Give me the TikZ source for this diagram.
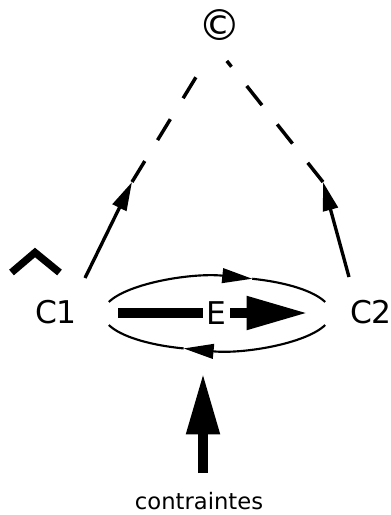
\documentclass[tikz,border=0pt]{standalone}
\usepackage{fontspec}
\setmainfont{DejaVu Sans}
\usetikzlibrary{arrows.meta}
\begin{document}
\begin{tikzpicture}[x=0.75pt,y=-0.75pt,
  thintip/.style={-{Triangle[length=21.5pt,width=11.2pt]}},
  solidline/.style={line width=2.5pt, thintip},
  dashline/.style={line width=2.6pt, dash pattern=on 18.4pt off 18.4pt},
  arcline/.style={line width=1.6pt},
  arctip/.style={-{Triangle[length=22.5pt,width=11pt]}},
  bigarrow/.style={line width=7.5pt, -{Triangle[length=46pt,width=23.5pt]}},
  biglabel/.style={font=\fontsize{23.5}{26}\selectfont, inner sep=0pt},
  smalllabel/.style={font=\fontsize{17}{20}\selectfont, inner sep=0pt},
  hatline/.style={line width=5.5pt, miter limit=10}
]
\useasboundingbox (0,0) rectangle (390,515);

% labels
\node[font=\fontsize{32}{36}\selectfont, inner sep=0pt] (copy) at (220,25) {©};
\node[biglabel, anchor=base] (C1) at (56,323) {C1};
\node[biglabel, anchor=base] (C2) at (371,323) {C2};
\node[smalllabel, anchor=base] (ctr) at (199,509) {contraintes};

% coordinates
\coordinate (apex) at (215,46);
\coordinate (c1out) at (85,278);
\coordinate (ltip) at (132,182);
\coordinate (c2out) at (349,277);
\coordinate (rtip) at (323,182);
\coordinate (ec) at (217,313.5);
\coordinate (barstart) at (118,313);
\coordinate (barend) at (308,313);
\coordinate (upstart) at (203,473);
\coordinate (uptip) at (203,373);

% dashed lines toward the top
\draw[dashline, shorten >=26.7pt] (ltip) -- (apex);
\draw[dashline, shorten >=14.3pt] (rtip) -- (apex);

% solid arrows
\draw[solidline] (c1out) -- (ltip);
\draw[solidline] (c2out) -- (rtip);

% hat
\draw[hatline] (11.5,272.5) -- (35,252.5) -- (59.5,272.5);

% loop (two arcs)
\draw[arcline, arctip] ([shift={(161.6:85.5pt and 27.4pt)}]ec) arc[start angle=161.6, end angle=72, x radius=85.5pt, y radius=27.4pt];
\draw[arcline] ([shift={(72:85.5pt and 27.4pt)}]ec) arc[start angle=72, end angle=18.4, x radius=85.5pt, y radius=27.4pt];
\draw[arcline, arctip] ([shift={(-18.4:85.5pt and 27.4pt)}]ec) arc[start angle=-18.4, end angle=-107, x radius=85.5pt, y radius=27.4pt];
\draw[arcline] ([shift={(-107:85.5pt and 27.4pt)}]ec) arc[start angle=-107, end angle=-161.6, x radius=85.5pt, y radius=27.4pt];

% thick arrows
\draw[bigarrow] (barstart) -- (barend);
\node[biglabel, fill=white, inner xsep=2.6pt, inner ysep=1pt] (E) at (216.5,313) {E};
\draw[bigarrow] (upstart) -- (uptip);
\end{tikzpicture}
\end{document}
